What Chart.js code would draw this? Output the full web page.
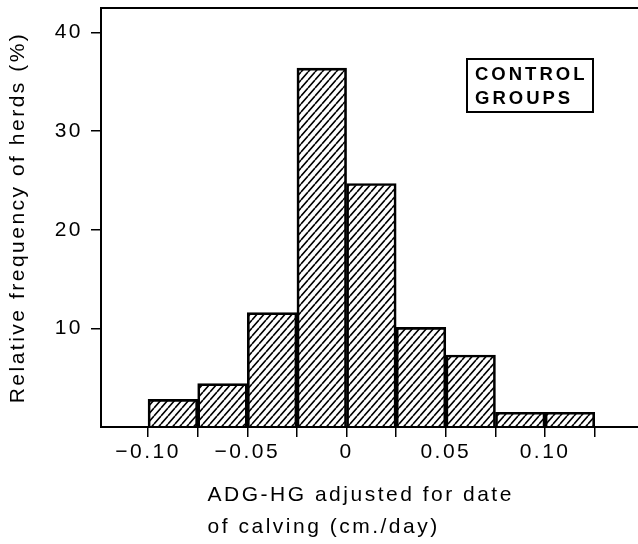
<!DOCTYPE html>
<html>
<head>
<meta charset="utf-8">
<script src="https://cdn.jsdelivr.net/npm/chart.js@4/dist/chart.umd.min.js"></script>
<style>
  html, body { margin: 0; padding: 0; background: #fff; }
  #wrap { width: 638px; height: 544px; }
</style>
</head>
<body>
<div id="wrap"><canvas id="hist" width="638" height="544"></canvas></div>
<script>
// histogram bins (lower edge), width 0.025 cm/day
const binStart = [-0.100, -0.075, -0.050, -0.025, 0.000, 0.025, 0.050, 0.075, 0.100]
const binWidth = 0.025
const freq = [2.8, 4.4, 11.6, 36.4, 24.7, 10.1, 7.3, 1.5, 1.5]
const xLabels = { '-0.1': '\u22120.10', '-0.05': '\u22120.05', '0': '0', '0.05': '0.05', '0.1': '0.10' }
const yLabels = [10, 20, 30, 40]
const yTitle = 'Relative frequency of herds (%)'
const xTitle = ['ADG-HG adjusted for date', 'of calving (cm./day)']
const boxLines = ['CONTROL', 'GROUPS']

const FONT = '"Liberation Sans", Arial, Helvetica, sans-serif'

function hatch() {
  const c = document.createElement('canvas')
  c.width = 7; c.height = 8
  const g = c.getContext('2d')
  g.strokeStyle = '#000'
  g.lineWidth = 1.6
  g.beginPath()
  for (const dx of [-7, 0, 7]) { g.moveTo(dx, 8); g.lineTo(dx + 7, 0) }
  g.stroke()
  return g.createPattern(c, 'repeat')
}

function tickName(v) {
  const k = String(Math.round(v * 1000) / 1000)
  return xLabels[k] || ''
}

const spacedText = {
  id: 'spacedText',
  beforeUpdate(chart) { chart.ctx.letterSpacing = '2.5px' },
  afterDraw(chart) {
    const ctx = chart.ctx
    const x0 = chart.scales.x.getPixelForValue(-0.07)
    ctx.save()
    ctx.fillStyle = '#000'
    ctx.strokeStyle = '#000'
    ctx.textAlign = 'left'
    ctx.textBaseline = 'alphabetic'
    ctx.letterSpacing = '2.5px'
    ctx.font = '21px ' + FONT
    xTitle.forEach((t, i) => ctx.fillText(t, x0, 501 + i * 32))

    // boxed group label, upper right
    ctx.lineWidth = 2
    ctx.strokeRect(467, 59, 126, 53)
    ctx.letterSpacing = '3px'
    ctx.font = 'bold 18.5px ' + FONT
    boxLines.forEach((t, i) => ctx.fillText(t, 475, 80 + i * 24))
    ctx.restore()
  }
}

new Chart(document.getElementById('hist'), {
  type: 'bar',
  data: {
    datasets: [{
      data: binStart.map((s, i) => ({ x: s + binWidth / 2, y: freq[i] })),
      backgroundColor: hatch(),
      borderColor: '#000',
      borderWidth: 2,
      barPercentage: 1,
      categoryPercentage: 1
    }]
  },
  options: {
    responsive: false,
    animation: false,
    layout: { padding: { top: 8, left: 0, right: 0, bottom: 0 } },
    plugins: { legend: { display: false }, tooltip: { enabled: false } },
    scales: {
      x: {
        type: 'linear',
        position: 'bottom',
        min: -0.1237,
        max: 0.1468,
        offset: false,
        afterFit(s) { s.height = 117; s.paddingLeft = 0; s.paddingRight = 0 },
        border: { display: true, color: '#000', width: 2 },
        grid: { offset: false, drawOnChartArea: false, drawTicks: true, tickLength: 10, color: '#000', lineWidth: 1.5 },
        ticks: {
          stepSize: binWidth,
          includeBounds: false,
          autoSkip: false,
          maxRotation: 0,
          padding: 3,
          color: '#000',
          font: { size: 21, family: FONT },
          callback: v => tickName(v)
        }
      },
      xTop: {
        type: 'linear',
        position: 'top',
        min: -0.1237,
        max: 0.1468,
        afterFit(s) { s.height = 0; s.paddingLeft = 0; s.paddingRight = 0 },
        border: { display: true, color: '#000', width: 2 },
        grid: { display: false, drawTicks: false },
        ticks: { display: false }
      },
      y: {
        min: 0,
        max: 42.5,
        afterFit(s) { s.width = 101; s.paddingTop = 0; s.paddingBottom = 0 },
        border: { display: true, color: '#000', width: 2 },
        grid: {
          drawOnChartArea: false, drawTicks: true, tickLength: 10, lineWidth: 1.5,
          tickColor: c => (c.tick && c.tick.value === 0 ? 'rgba(0,0,0,0)' : '#000')
        },
        ticks: {
          stepSize: 10,
          includeBounds: false,
          padding: 8,
          color: '#000',
          font: { size: 21, family: FONT },
          callback: v => (yLabels.includes(v) ? String(v) : '')
        },
        title: {
          display: true,
          text: yTitle,
          color: '#000',
          padding: { top: 6, bottom: 0 },
          font: { size: 21, family: FONT }
        }
      }
    }
  },
  plugins: [spacedText]
})
</script>
</body>
</html>
